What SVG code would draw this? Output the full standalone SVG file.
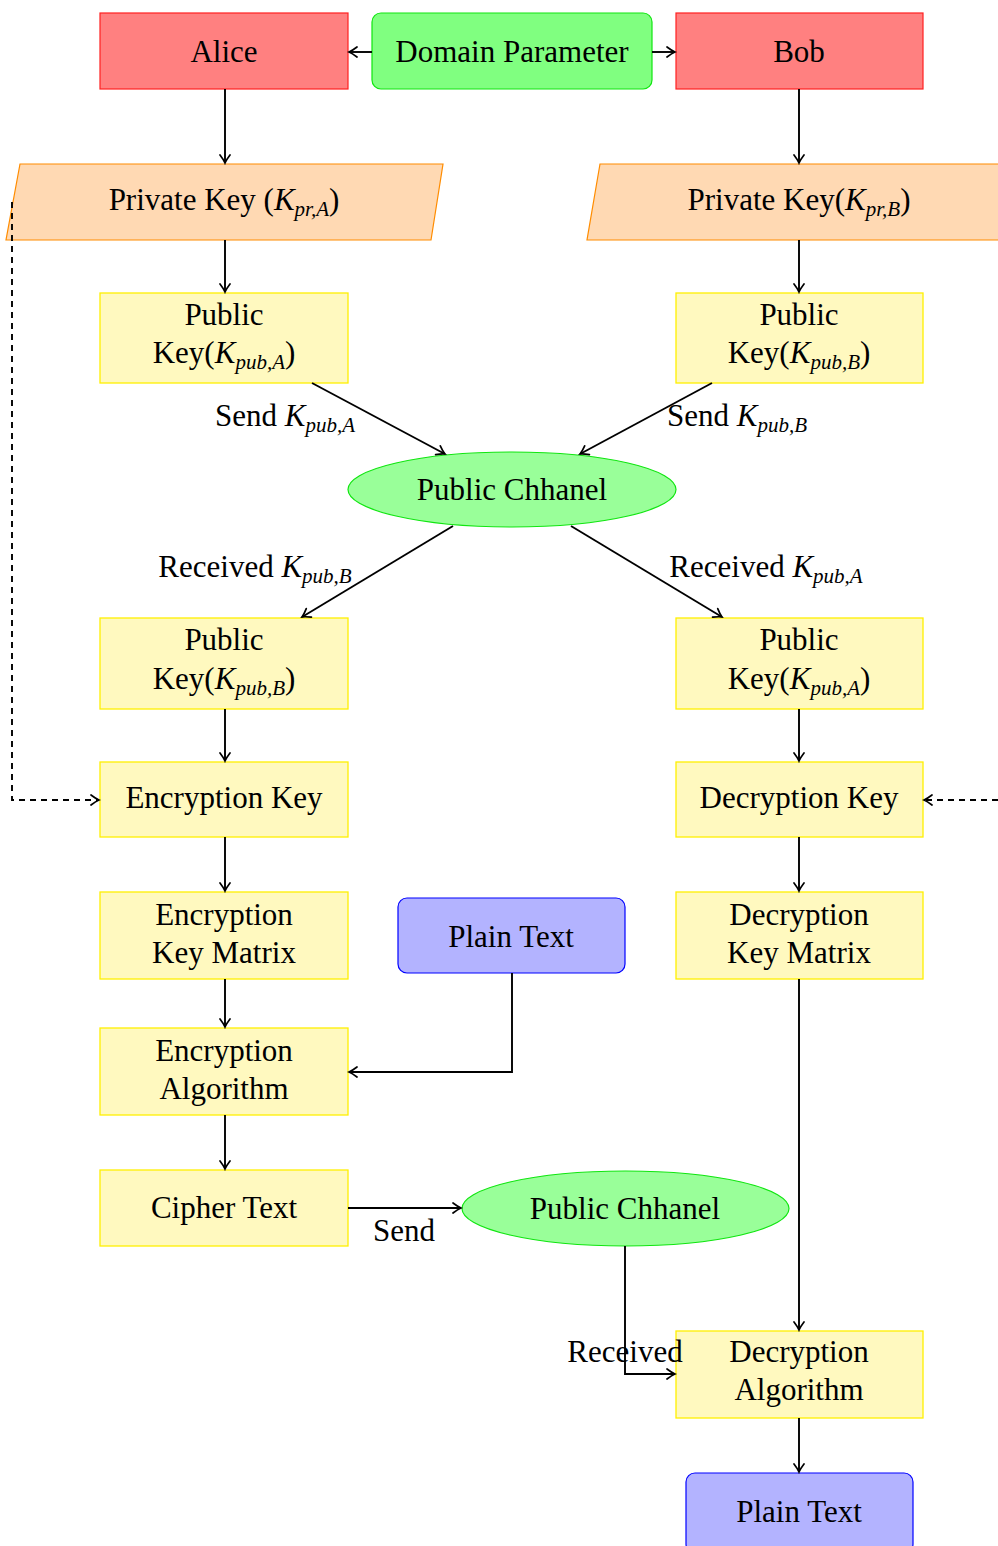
<svg xmlns="http://www.w3.org/2000/svg" width="998" height="1546" viewBox="0 0 998 1546">
<style>
text{font-family:"Liberation Serif","DejaVu Serif",serif;font-size:31px;fill:#000;text-anchor:middle}
.sub{font-size:21px;font-style:italic}
.it{font-style:italic}
.red{fill:#ff8080;stroke:#ff2020;stroke-width:1.2}
.grn{fill:#80ff80;stroke:#10e610;stroke-width:1.2}
.ell{fill:#99ff99;stroke:#10e610;stroke-width:1.2}
.org{fill:#ffd9b3;stroke:#ff8c00;stroke-width:1.2}
.yel{fill:#fff9bf;stroke:#fff000;stroke-width:1.3}
.blu{fill:#b3b3ff;stroke:#0000ff;stroke-width:1.2}
.c{fill:none;stroke:#000;stroke-width:1.9;marker-end:url(#arr)}
.d{stroke-dasharray:6 5}
</style>
<defs>
<marker id="arr" viewBox="-10 -6 12 12" refX="0" refY="0" markerWidth="12" markerHeight="12" orient="auto" markerUnits="userSpaceOnUse">
<path d="M-8,-5 Q-3,-1.2 0,0 Q-3,1.2 -8,5" fill="none" stroke="#000" stroke-width="1.7" stroke-linecap="round"/>
</marker>
</defs>
<rect width="998" height="1546" fill="#fff"/>
<g id="alice"><rect class="red" x="100" y="13" width="248" height="76"/><text x="224" y="62">Alice</text></g>
<g id="domain"><rect class="grn" x="372" y="13" width="280" height="76" rx="9"/><text x="512" y="62">Domain Parameter</text></g>
<g id="bob"><rect class="red" x="676" y="13" width="247" height="76"/><text x="799" y="62">Bob</text></g>
<g id="privA"><polygon class="org" points="20,164 443,164 431,240 6,240"/><text x="224" y="210">Private Key (<tspan class="it">K</tspan><tspan class="sub" dy="6">pr,A</tspan><tspan dy="-6">)</tspan></text></g>
<g id="privB"><polygon class="org" points="600,164 1030,164 1018,240 587,240"/><text x="799" y="210">Private Key(<tspan class="it">K</tspan><tspan class="sub" dy="6">pr,B</tspan><tspan dy="-6">)</tspan></text></g>
<g id="pubA1"><rect class="yel" x="100" y="293" width="248" height="90"/><text x="224" y="325">Public</text><text x="224" y="363">Key(<tspan class="it">K</tspan><tspan class="sub" dy="6">pub,A</tspan><tspan dy="-6">)</tspan></text></g>
<g id="pubB1"><rect class="yel" x="676" y="293" width="247" height="90"/><text x="799" y="325">Public</text><text x="799" y="363">Key(<tspan class="it">K</tspan><tspan class="sub" dy="6">pub,B</tspan><tspan dy="-6">)</tspan></text></g>
<g id="channel1"><ellipse class="ell" cx="512" cy="489.5" rx="164" ry="37.5"/><text x="512" y="500">Public Chhanel</text></g>
<g id="pubB2"><rect class="yel" x="100" y="618" width="248" height="91"/><text x="224" y="650">Public</text><text x="224" y="689">Key(<tspan class="it">K</tspan><tspan class="sub" dy="6">pub,B</tspan><tspan dy="-6">)</tspan></text></g>
<g id="pubA2"><rect class="yel" x="676" y="618" width="247" height="91"/><text x="799" y="650">Public</text><text x="799" y="689">Key(<tspan class="it">K</tspan><tspan class="sub" dy="6">pub,A</tspan><tspan dy="-6">)</tspan></text></g>
<g id="encKey"><rect class="yel" x="100" y="762" width="248" height="75"/><text x="224" y="808">Encryption Key</text></g>
<g id="decKey"><rect class="yel" x="676" y="762" width="247" height="75"/><text x="799" y="808">Decryption Key</text></g>
<g id="encMatrix"><rect class="yel" x="100" y="892" width="248" height="87"/><text x="224" y="925">Encryption</text><text x="224" y="963">Key Matrix</text></g>
<g id="plain1"><rect class="blu" x="398" y="898" width="227" height="75" rx="9"/><text x="511" y="947">Plain Text</text></g>
<g id="decMatrix"><rect class="yel" x="676" y="892" width="247" height="87"/><text x="799" y="925">Decryption</text><text x="799" y="963">Key Matrix</text></g>
<g id="encAlg"><rect class="yel" x="100" y="1028" width="248" height="87"/><text x="224" y="1061">Encryption</text><text x="224" y="1099">Algorithm</text></g>
<g id="cipher"><rect class="yel" x="100" y="1170" width="248" height="76"/><text x="224" y="1218">Cipher Text</text></g>
<g id="channel2"><ellipse class="ell" cx="625.5" cy="1208.5" rx="163.5" ry="37.5"/><text x="625" y="1219">Public Chhanel</text></g>
<g id="decAlg"><rect class="yel" x="676" y="1331" width="247" height="87"/><text x="799" y="1362">Decryption</text><text x="799" y="1400">Algorithm</text></g>
<g id="plain2"><rect class="blu" x="686" y="1473" width="227" height="80" rx="9"/><text x="799" y="1522">Plain Text</text></g>
<g id="connectors">
<path class="c" d="M372,52 H349"/>
<path class="c" d="M652,52 H675"/>
<path class="c" d="M225,89 V163"/>
<path class="c" d="M799,89 V163"/>
<path class="c" d="M225,240 V292"/>
<path class="c" d="M799,240 V292"/>
<path class="c" d="M312,383 L445,454"/>
<path class="c" d="M712,383 L580,454"/>
<path class="c" d="M453,526 L302,617"/>
<path class="c" d="M571,526 L722,617"/>
<path class="c" d="M225,709 V761"/>
<path class="c" d="M799,709 V761"/>
<path class="c d" d="M12,202 V800 H99"/>
<path class="c d" d="M998,800 H924"/>
<path class="c" d="M225,837 V891"/>
<path class="c" d="M799,837 V891"/>
<path class="c" d="M225,979 V1027"/>
<path class="c" d="M512,973 V1072 H349"/>
<path class="c" d="M225,1115 V1169"/>
<path class="c" d="M348,1208 H461"/>
<path class="c" d="M799,979 V1330"/>
<path class="c" d="M625,1246 V1374 H675"/>
<path class="c" d="M799,1418 V1472"/>
<text x="285" y="426">Send <tspan class="it">K</tspan><tspan class="sub" dy="6">pub,A</tspan></text>
<text x="737" y="426">Send <tspan class="it">K</tspan><tspan class="sub" dy="6">pub,B</tspan></text>
<text x="255" y="577">Received <tspan class="it">K</tspan><tspan class="sub" dy="6">pub,B</tspan></text>
<text x="766" y="577">Received <tspan class="it">K</tspan><tspan class="sub" dy="6">pub,A</tspan></text>
<text x="404" y="1241">Send</text>
<text x="625" y="1362">Received</text>
</g>
</svg>
